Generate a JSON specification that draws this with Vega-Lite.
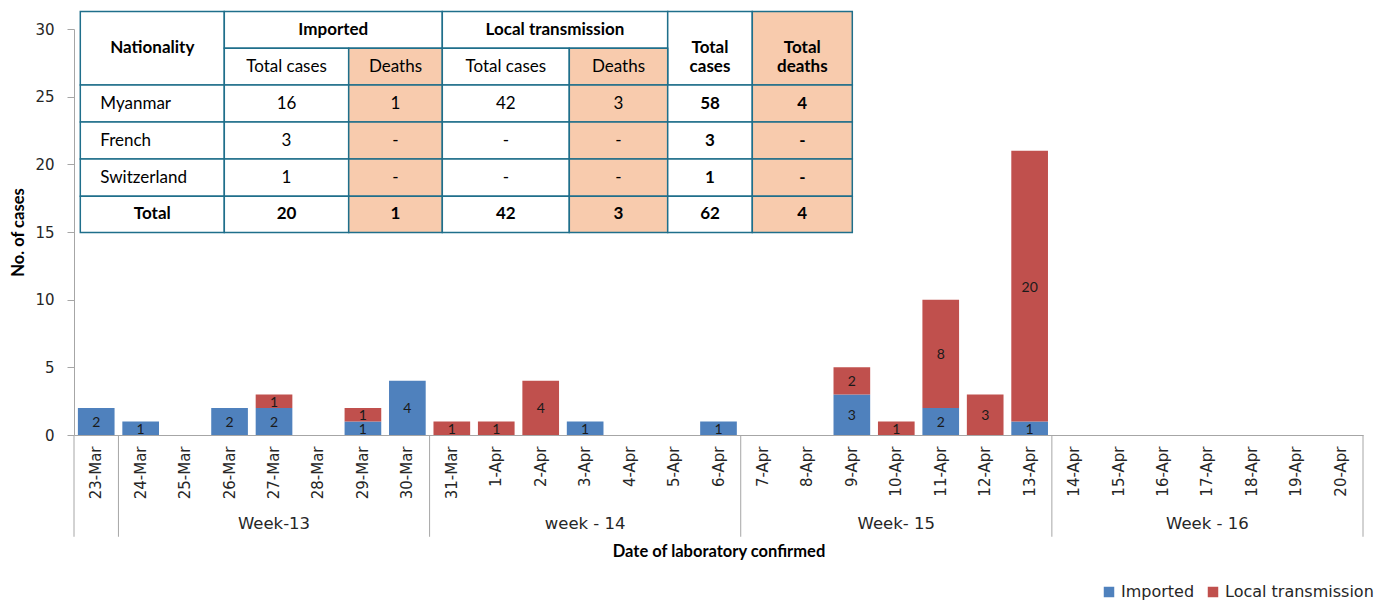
{
  "$schema": "https://vega.github.io/schema/vega-lite/v6.json",
  "width": 1289,
  "height": 406,
  "autosize": {"type": "none"},
  "padding": {"left": 74, "top": 29, "right": 17, "bottom": 165},
  "background": "white",
  "config": {"view": {"stroke": null}, "font": "DejaVu Sans"},
  "datasets": {
    "cases": [
      {"date": "23-Mar", "type": "Imported", "cases": 2},
      {"date": "24-Mar", "type": "Imported", "cases": 1},
      {"date": "26-Mar", "type": "Imported", "cases": 2},
      {"date": "27-Mar", "type": "Imported", "cases": 2},
      {"date": "27-Mar", "type": "Local transmission", "cases": 1},
      {"date": "29-Mar", "type": "Imported", "cases": 1},
      {"date": "29-Mar", "type": "Local transmission", "cases": 1},
      {"date": "30-Mar", "type": "Imported", "cases": 4},
      {"date": "31-Mar", "type": "Local transmission", "cases": 1},
      {"date": "1-Apr", "type": "Local transmission", "cases": 1},
      {"date": "2-Apr", "type": "Local transmission", "cases": 4},
      {"date": "3-Apr", "type": "Imported", "cases": 1},
      {"date": "6-Apr", "type": "Imported", "cases": 1},
      {"date": "9-Apr", "type": "Imported", "cases": 3},
      {"date": "9-Apr", "type": "Local transmission", "cases": 2},
      {"date": "10-Apr", "type": "Local transmission", "cases": 1},
      {"date": "11-Apr", "type": "Imported", "cases": 2},
      {"date": "11-Apr", "type": "Local transmission", "cases": 8},
      {"date": "12-Apr", "type": "Local transmission", "cases": 3},
      {"date": "13-Apr", "type": "Imported", "cases": 1},
      {"date": "13-Apr", "type": "Local transmission", "cases": 20}
    ],
    "weeks": [
      {"date": "27-Mar", "label": "Week-13"},
      {"date": "3-Apr", "label": "week - 14"},
      {"date": "10-Apr", "label": "Week- 15"},
      {"date": "17-Apr", "label": "Week - 16"}
    ],
    "seps": [
      {"date": "23-Mar"}, {"date": "24-Mar"}, {"date": "31-Mar"}, {"date": "7-Apr"}, {"date": "14-Apr"}
    ],
    "sepEnd": [{"date": "20-Apr"}],
    "table": [
      {"c0": 0, "c1": 1, "r0": 0, "r1": 2, "tx": 0.5, "ty": 1, "label": "Nationality", "role": "header", "kind": "cases"},
      {"c0": 1, "c1": 3, "r0": 0, "r1": 1, "tx": 1.876, "ty": 0.5, "label": "Imported", "role": "header", "kind": "cases"},
      {"c0": 3, "c1": 5, "r0": 0, "r1": 1, "tx": 3.887, "ty": 0.5, "label": "Local transmission", "role": "header", "kind": "cases"},
      {"c0": 5, "c1": 6, "r0": 0, "r1": 2, "tx": 5.5, "ty": 1, "label": ["Total", "cases"], "role": "header", "kind": "cases"},
      {"c0": 6, "c1": 7, "r0": 0, "r1": 2, "tx": 6.5, "ty": 1, "label": ["Total", "deaths"], "role": "header", "kind": "deaths"},
      {"c0": 1, "c1": 2, "r0": 1, "r1": 2, "tx": 1.5, "ty": 1.5, "label": "Total cases", "role": "sub", "kind": "cases"},
      {"c0": 2, "c1": 3, "r0": 1, "r1": 2, "tx": 2.5, "ty": 1.5, "label": "Deaths", "role": "sub", "kind": "deaths"},
      {"c0": 3, "c1": 4, "r0": 1, "r1": 2, "tx": 3.5, "ty": 1.5, "label": "Total cases", "role": "sub", "kind": "cases"},
      {"c0": 4, "c1": 5, "r0": 1, "r1": 2, "tx": 4.5, "ty": 1.5, "label": "Deaths", "role": "sub", "kind": "deaths"},

      {"c0": 0, "c1": 1, "r0": 2, "r1": 3, "tx": 0, "ty": 2.5, "label": "Myanmar", "role": "name", "kind": "cases"},
      {"c0": 1, "c1": 2, "r0": 2, "r1": 3, "tx": 1.5, "ty": 2.5, "label": "16", "role": "value", "kind": "cases"},
      {"c0": 2, "c1": 3, "r0": 2, "r1": 3, "tx": 2.5, "ty": 2.5, "label": "1", "role": "value", "kind": "deaths"},
      {"c0": 3, "c1": 4, "r0": 2, "r1": 3, "tx": 3.5, "ty": 2.5, "label": "42", "role": "value", "kind": "cases"},
      {"c0": 4, "c1": 5, "r0": 2, "r1": 3, "tx": 4.5, "ty": 2.5, "label": "3", "role": "value", "kind": "deaths"},
      {"c0": 5, "c1": 6, "r0": 2, "r1": 3, "tx": 5.5, "ty": 2.5, "label": "58", "role": "total", "kind": "cases"},
      {"c0": 6, "c1": 7, "r0": 2, "r1": 3, "tx": 6.5, "ty": 2.5, "label": "4", "role": "total", "kind": "deaths"},

      {"c0": 0, "c1": 1, "r0": 3, "r1": 4, "tx": 0, "ty": 3.5, "label": "French", "role": "name", "kind": "cases"},
      {"c0": 1, "c1": 2, "r0": 3, "r1": 4, "tx": 1.5, "ty": 3.5, "label": "3", "role": "value", "kind": "cases"},
      {"c0": 2, "c1": 3, "r0": 3, "r1": 4, "tx": 2.5, "ty": 3.5, "label": "-", "role": "value", "kind": "deaths"},
      {"c0": 3, "c1": 4, "r0": 3, "r1": 4, "tx": 3.5, "ty": 3.5, "label": "-", "role": "value", "kind": "cases"},
      {"c0": 4, "c1": 5, "r0": 3, "r1": 4, "tx": 4.5, "ty": 3.5, "label": "-", "role": "value", "kind": "deaths"},
      {"c0": 5, "c1": 6, "r0": 3, "r1": 4, "tx": 5.5, "ty": 3.5, "label": "3", "role": "total", "kind": "cases"},
      {"c0": 6, "c1": 7, "r0": 3, "r1": 4, "tx": 6.5, "ty": 3.5, "label": "-", "role": "total", "kind": "deaths"},

      {"c0": 0, "c1": 1, "r0": 4, "r1": 5, "tx": 0, "ty": 4.5, "label": "Switzerland", "role": "name", "kind": "cases"},
      {"c0": 1, "c1": 2, "r0": 4, "r1": 5, "tx": 1.5, "ty": 4.5, "label": "1", "role": "value", "kind": "cases"},
      {"c0": 2, "c1": 3, "r0": 4, "r1": 5, "tx": 2.5, "ty": 4.5, "label": "-", "role": "value", "kind": "deaths"},
      {"c0": 3, "c1": 4, "r0": 4, "r1": 5, "tx": 3.5, "ty": 4.5, "label": "-", "role": "value", "kind": "cases"},
      {"c0": 4, "c1": 5, "r0": 4, "r1": 5, "tx": 4.5, "ty": 4.5, "label": "-", "role": "value", "kind": "deaths"},
      {"c0": 5, "c1": 6, "r0": 4, "r1": 5, "tx": 5.5, "ty": 4.5, "label": "1", "role": "total", "kind": "cases"},
      {"c0": 6, "c1": 7, "r0": 4, "r1": 5, "tx": 6.5, "ty": 4.5, "label": "-", "role": "total", "kind": "deaths"},

      {"c0": 0, "c1": 1, "r0": 5, "r1": 6, "tx": 0.5, "ty": 5.5, "label": "Total", "role": "total", "kind": "cases"},
      {"c0": 1, "c1": 2, "r0": 5, "r1": 6, "tx": 1.5, "ty": 5.5, "label": "20", "role": "total", "kind": "cases"},
      {"c0": 2, "c1": 3, "r0": 5, "r1": 6, "tx": 2.5, "ty": 5.5, "label": "1", "role": "total", "kind": "deaths"},
      {"c0": 3, "c1": 4, "r0": 5, "r1": 6, "tx": 3.5, "ty": 5.5, "label": "42", "role": "total", "kind": "cases"},
      {"c0": 4, "c1": 5, "r0": 5, "r1": 6, "tx": 4.5, "ty": 5.5, "label": "3", "role": "total", "kind": "deaths"},
      {"c0": 5, "c1": 6, "r0": 5, "r1": 6, "tx": 5.5, "ty": 5.5, "label": "62", "role": "total", "kind": "cases"},
      {"c0": 6, "c1": 7, "r0": 5, "r1": 6, "tx": 6.5, "ty": 5.5, "label": "4", "role": "total", "kind": "deaths"}
    ]
  },
  "layer": [
    {
      "layer": [
        {
          "data": {"name": "cases"},
          "mark": {"type": "bar", "width": {"band": 0.825}},
          "encoding": {
            "x": {
              "field": "date", "type": "nominal", "sort": null,
              "scale": {"domain": ["23-Mar","24-Mar","25-Mar","26-Mar","27-Mar","28-Mar","29-Mar","30-Mar","31-Mar","1-Apr","2-Apr","3-Apr","4-Apr","5-Apr","6-Apr","7-Apr","8-Apr","9-Apr","10-Apr","11-Apr","12-Apr","13-Apr","14-Apr","15-Apr","16-Apr","17-Apr","18-Apr","19-Apr","20-Apr"], "paddingInner": 0, "paddingOuter": 0},
              "title": "Date of laboratory confirmed",
              "axis": {"labelAngle": -90, "labelFont": "DejaVu Sans", "labelFontSize": 15, "labelColor": "#262626", "labelPadding": 11, "ticks": false, "domainColor": "#A6A6A6", "domainWidth": 1, "titleFont": "Lato", "titleFontSize": 16.5, "titleFontWeight": "bold", "titleColor": "#000000", "titlePadding": 45}
            },
            "y": {
              "field": "cases", "type": "quantitative", "stack": "zero",
              "scale": {"domain": [0, 30], "nice": false},
              "title": "No. of cases",
              "axis": {"values": [0, 5, 10, 15, 20, 25, 30], "grid": false, "tickSize": 7, "tickColor": "#A6A6A6", "domainColor": "#A6A6A6", "labelFont": "DejaVu Sans", "labelFontSize": 15, "labelColor": "#262626", "labelPadding": 13, "titleFont": "Lato", "titleFontSize": 16.5, "titleFontWeight": "bold", "titleColor": "#000000", "titlePadding": 8}
            },
            "color": {
              "field": "type", "type": "nominal",
              "scale": {"domain": ["Imported", "Local transmission"], "range": ["#4F81BD", "#C0504D"]},
              "legend": {"orient": "none", "legendX": 1027, "legendY": 555, "direction": "horizontal", "title": null, "symbolType": "square", "symbolSize": 110, "symbolStrokeWidth": 0, "labelFont": "DejaVu Sans", "labelFontSize": 16, "labelColor": "#262626", "columnPadding": 10, "labelOffset": 4}
            },
            "order": {"field": "type", "type": "nominal", "sort": "ascending"}
          }
        },
        {
          "data": {"name": "cases"},
          "mark": {"type": "text", "font": "Lato", "fontSize": 14, "color": "#1A1A1A", "baseline": "middle", "dy": 1.5},
          "encoding": {
            "x": {"field": "date", "type": "nominal", "sort": null},
            "y": {"field": "cases", "type": "quantitative", "stack": "zero", "bandPosition": 0.5},
            "detail": {"field": "type", "type": "nominal"},
            "order": {"field": "type", "type": "nominal", "sort": "ascending"},
            "text": {"field": "cases", "type": "quantitative"}
          }
        },
        {
          "data": {"name": "seps"},
          "mark": {"type": "rule", "color": "#A6A6A6", "strokeWidth": 1},
          "encoding": {
            "x": {"field": "date", "type": "nominal", "sort": null, "bandPosition": 0},
            "y": {"datum": 0},
            "y2": {"datum": -7.52}
          }
        },
        {
          "data": {"name": "sepEnd"},
          "mark": {"type": "rule", "color": "#A6A6A6", "strokeWidth": 1},
          "encoding": {
            "x": {"field": "date", "type": "nominal", "sort": null, "bandPosition": 1},
            "y": {"datum": 0},
            "y2": {"datum": -7.52}
          }
        },
        {
          "data": {"name": "weeks"},
          "mark": {"type": "text", "font": "DejaVu Sans", "fontSize": 16.5, "color": "#262626", "baseline": "middle"},
          "encoding": {
            "x": {"field": "date", "type": "nominal", "sort": null},
            "y": {"datum": -6.58},
            "text": {"field": "label"}
          }
        }
      ]
    },
    {
      "data": {"name": "table"},
      "layer": [
        {
          "mark": {"type": "rect", "stroke": "#1F6F8B", "strokeWidth": 1.5},
          "encoding": {
            "x": {"field": "c0", "type": "quantitative", "scale": {"domain": [0,1,2,3,4,5,6,7], "range": [6.3,150.3,274.7,368.3,495.3,593.7,678.3,778.3], "zero": false, "nice": false}, "axis": null},
            "x2": {"field": "c1"},
            "y": {"field": "r0", "type": "quantitative", "scale": {"domain": [0,1,2,3,4,5,6], "range": [-17.5,19.3,56,93,130,167.3,203.5], "zero": false, "nice": false}, "axis": null},
            "y2": {"field": "r1"},
            "fill": {"condition": {"test": "datum.kind === 'deaths'", "value": "#F8CBAD"}, "value": "#FFFFFF"}
          }
        },
        {
          "transform": [{"filter": "datum.role === 'sub' || datum.role === 'value'"}],
          "mark": {"type": "text", "font": "Lato", "fontSize": 17, "color": "#000000", "baseline": "middle", "align": "center"},
          "encoding": {
            "x": {"field": "tx", "type": "quantitative", "scale": {"domain": [0,1,2,3,4,5,6,7], "range": [6.3,150.3,274.7,368.3,495.3,593.7,678.3,778.3], "zero": false, "nice": false}, "axis": null},
            "y": {"field": "ty", "type": "quantitative", "scale": {"domain": [0,1,2,3,4,5,6], "range": [-17.5,19.3,56,93,130,167.3,203.5], "zero": false, "nice": false}, "axis": null},
            "text": {"field": "label"}
          }
        },
        {
          "transform": [{"filter": "datum.role === 'header' || datum.role === 'total'"}],
          "mark": {"type": "text", "font": "Lato", "fontSize": 17, "fontWeight": "bold", "color": "#000000", "baseline": "middle", "align": "center", "lineHeight": 19},
          "encoding": {
            "x": {"field": "tx", "type": "quantitative", "scale": {"domain": [0,1,2,3,4,5,6,7], "range": [6.3,150.3,274.7,368.3,495.3,593.7,678.3,778.3], "zero": false, "nice": false}, "axis": null},
            "y": {"field": "ty", "type": "quantitative", "scale": {"domain": [0,1,2,3,4,5,6], "range": [-17.5,19.3,56,93,130,167.3,203.5], "zero": false, "nice": false}, "axis": null},
            "text": {"field": "label"}
          }
        },
        {
          "transform": [{"filter": "datum.role === 'name'"}],
          "mark": {"type": "text", "font": "Lato", "fontSize": 17, "color": "#000000", "baseline": "middle", "align": "left", "dx": 20},
          "encoding": {
            "x": {"field": "tx", "type": "quantitative", "scale": {"domain": [0,1,2,3,4,5,6,7], "range": [6.3,150.3,274.7,368.3,495.3,593.7,678.3,778.3], "zero": false, "nice": false}, "axis": null},
            "y": {"field": "ty", "type": "quantitative", "scale": {"domain": [0,1,2,3,4,5,6], "range": [-17.5,19.3,56,93,130,167.3,203.5], "zero": false, "nice": false}, "axis": null},
            "text": {"field": "label"}
          }
        }
      ]
    }
  ],
  "resolve": {"scale": {"x": "independent", "y": "independent"}, "axis": {"x": "independent", "y": "independent"}}
}
